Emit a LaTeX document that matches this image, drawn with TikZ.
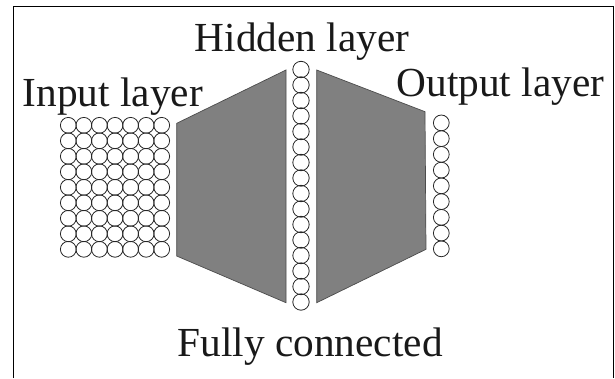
\documentclass[tikz,border=0pt]{standalone}
\usepackage{fontspec}
\setmainfont{Liberation Serif}
\begin{document}
\begin{tikzpicture}[x=1pt,y=-1pt,
  neuron/.style={circle,draw=black!85,line width=0.8pt,inner sep=0pt,minimum size=15.8pt},
  slab/.style={fill=black!50,draw=black!70,line width=0.7pt},
  lab/.style={anchor=base west,inner sep=0pt,font=\fontsize{41.3}{48}\selectfont,text=black!90},
  frame/.style={line width=1.3pt,draw=black}]
\useasboundingbox (0,0) rectangle (615,378);
% frame (open at the bottom)
\draw[frame] (13.3,378) -- (13.3,6.7) -- (613.3,6.7) -- (613.3,378);
% input layer 7x9
\foreach \j in {0,...,6}{
  \foreach \i in {0,...,8}{
    \node[neuron] (in-\j-\i) at ({68.3+15.57*\j},{125.3+15.5*\i}) {};
  }
}
% hidden layer
\foreach \k in {0,...,15}{
  \node[neuron,minimum width=16.4pt] (hid-\k) at (301,{69.5+15.5*\k}) {};
}
% output layer
\foreach \k in {0,...,8}{
  \node[neuron] (out-\k) at (441.3,{122.9+15.74*\k}) {};
}
% fully connected slabs
\coordinate (lA) at (176.7,123.3);
\coordinate (lB) at (286,70);
\coordinate (lC) at (286,302.7);
\coordinate (lD) at (176.7,256);
\draw[slab] (lA) -- (lB) -- (lC) -- (lD) -- cycle;
\coordinate (rA) at (316.7,70);
\coordinate (rB) at (425,111.7);
\coordinate (rC) at (426,249.3);
\coordinate (rD) at (316.7,302.7);
\draw[slab] (rA) -- (rB) -- (rC) -- (rD) -- cycle;
% labels
\node[lab] (hidlab) at (194.5,51.7) {Hidden layer};
\node[lab] (inlab) at (22.5,106) {Input layer};
\node[lab] (outlab) at (396.5,96) {Output layer};
\node[lab] (fclab) at (177.5,356.7) {Fully connected};
\end{tikzpicture}
\end{document}
